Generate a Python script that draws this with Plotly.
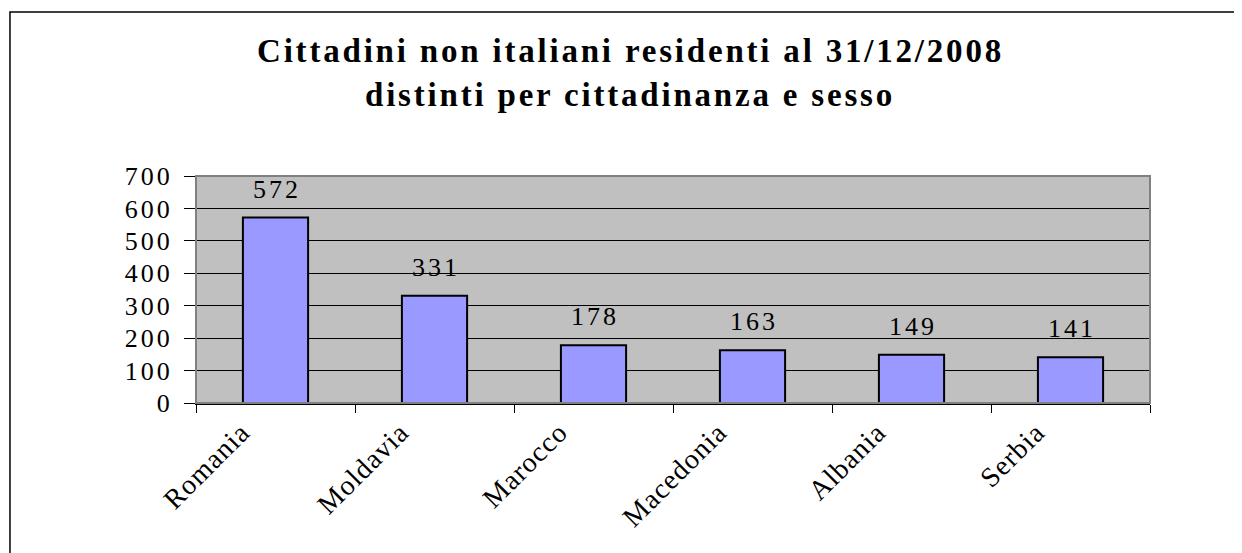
import plotly.graph_objects as go

categories = ["Romania", "Moldavia", "Marocco", "Macedonia", "Albania", "Serbia"]
values = [572, 331, 178, 163, 149, 141]
y_ticks = [0, 100, 200, 300, 400, 500, 600, 700]
title_lines = ["Cittadini non italiani residenti al 31/12/2008",
               "distinti per cittadinanza e sesso"]

SERIF = "Liberation Serif, Times New Roman, serif"


def spaced(txt, px):
    return f'<span style="letter-spacing:{px}px">{txt}</span>'


fig = go.Figure()
fig.add_trace(go.Bar(
    x=categories, y=values,
    marker=dict(color="#9999FF", line=dict(color="black", width=2)),
    hoverinfo="x+y",
))

for c, v in zip(categories, values):
    fig.add_annotation(x=c, y=v, text=spaced(str(v), 3), showarrow=False,
                       yanchor="bottom", yshift=12, xshift=1,
                       font=dict(family=SERIF, size=26, color="black"))

for line, shift in zip(title_lines, [125, 81]):
    fig.add_annotation(xref="paper", yref="paper", x=0.455, y=1.0,
                       yshift=shift, text="<b>" + spaced(line, 2.8) + "</b>",
                       showarrow=False, yanchor="middle",
                       font=dict(family=SERIF, size=33, color="black"))

# outer chart border
fig.add_shape(type="rect", xref="paper", yref="paper",
              x0=-0.195, x1=1.3, y0=-1.0, y1=1.722,
              line=dict(color="black", width=1.5), layer="above")
# plot area border
fig.add_shape(type="rect", xref="paper", yref="paper",
              x0=0, x1=1, y0=0, y1=1,
              line=dict(color="#808080", width=2), layer="above")

fig.update_layout(
    width=1234, height=545,
    margin=dict(l=188, r=92, t=168, b=150),
    paper_bgcolor="white", plot_bgcolor="#C0C0C0",
    showlegend=False, bargap=0.59,
)
fig.update_yaxes(range=[0, 700], tickvals=y_ticks,
                 ticktext=[spaced(str(t), 3) for t in y_ticks],
                 showgrid=True, gridcolor="black", gridwidth=1, showline=True,
                 linecolor="black", linewidth=1, ticks="outside",
                 ticklen=11, tickcolor="black", zeroline=False,
                 ticklabelstandoff=6,
                 tickfont=dict(family=SERIF, size=26, color="black"))
fig.update_xaxes(showline=True, linecolor="black", linewidth=1.5,
                 tickvals=categories,
                 ticktext=[spaced(c, 1) for c in categories],
                 ticks="outside", tickson="boundaries", ticklen=8,
                 tickcolor="black", tickangle=-45,
                 ticklabelshift=-34, ticklabelstandoff=0,
                 tickfont=dict(family=SERIF, size=28, color="black"))

fig.write_html("out.html")
